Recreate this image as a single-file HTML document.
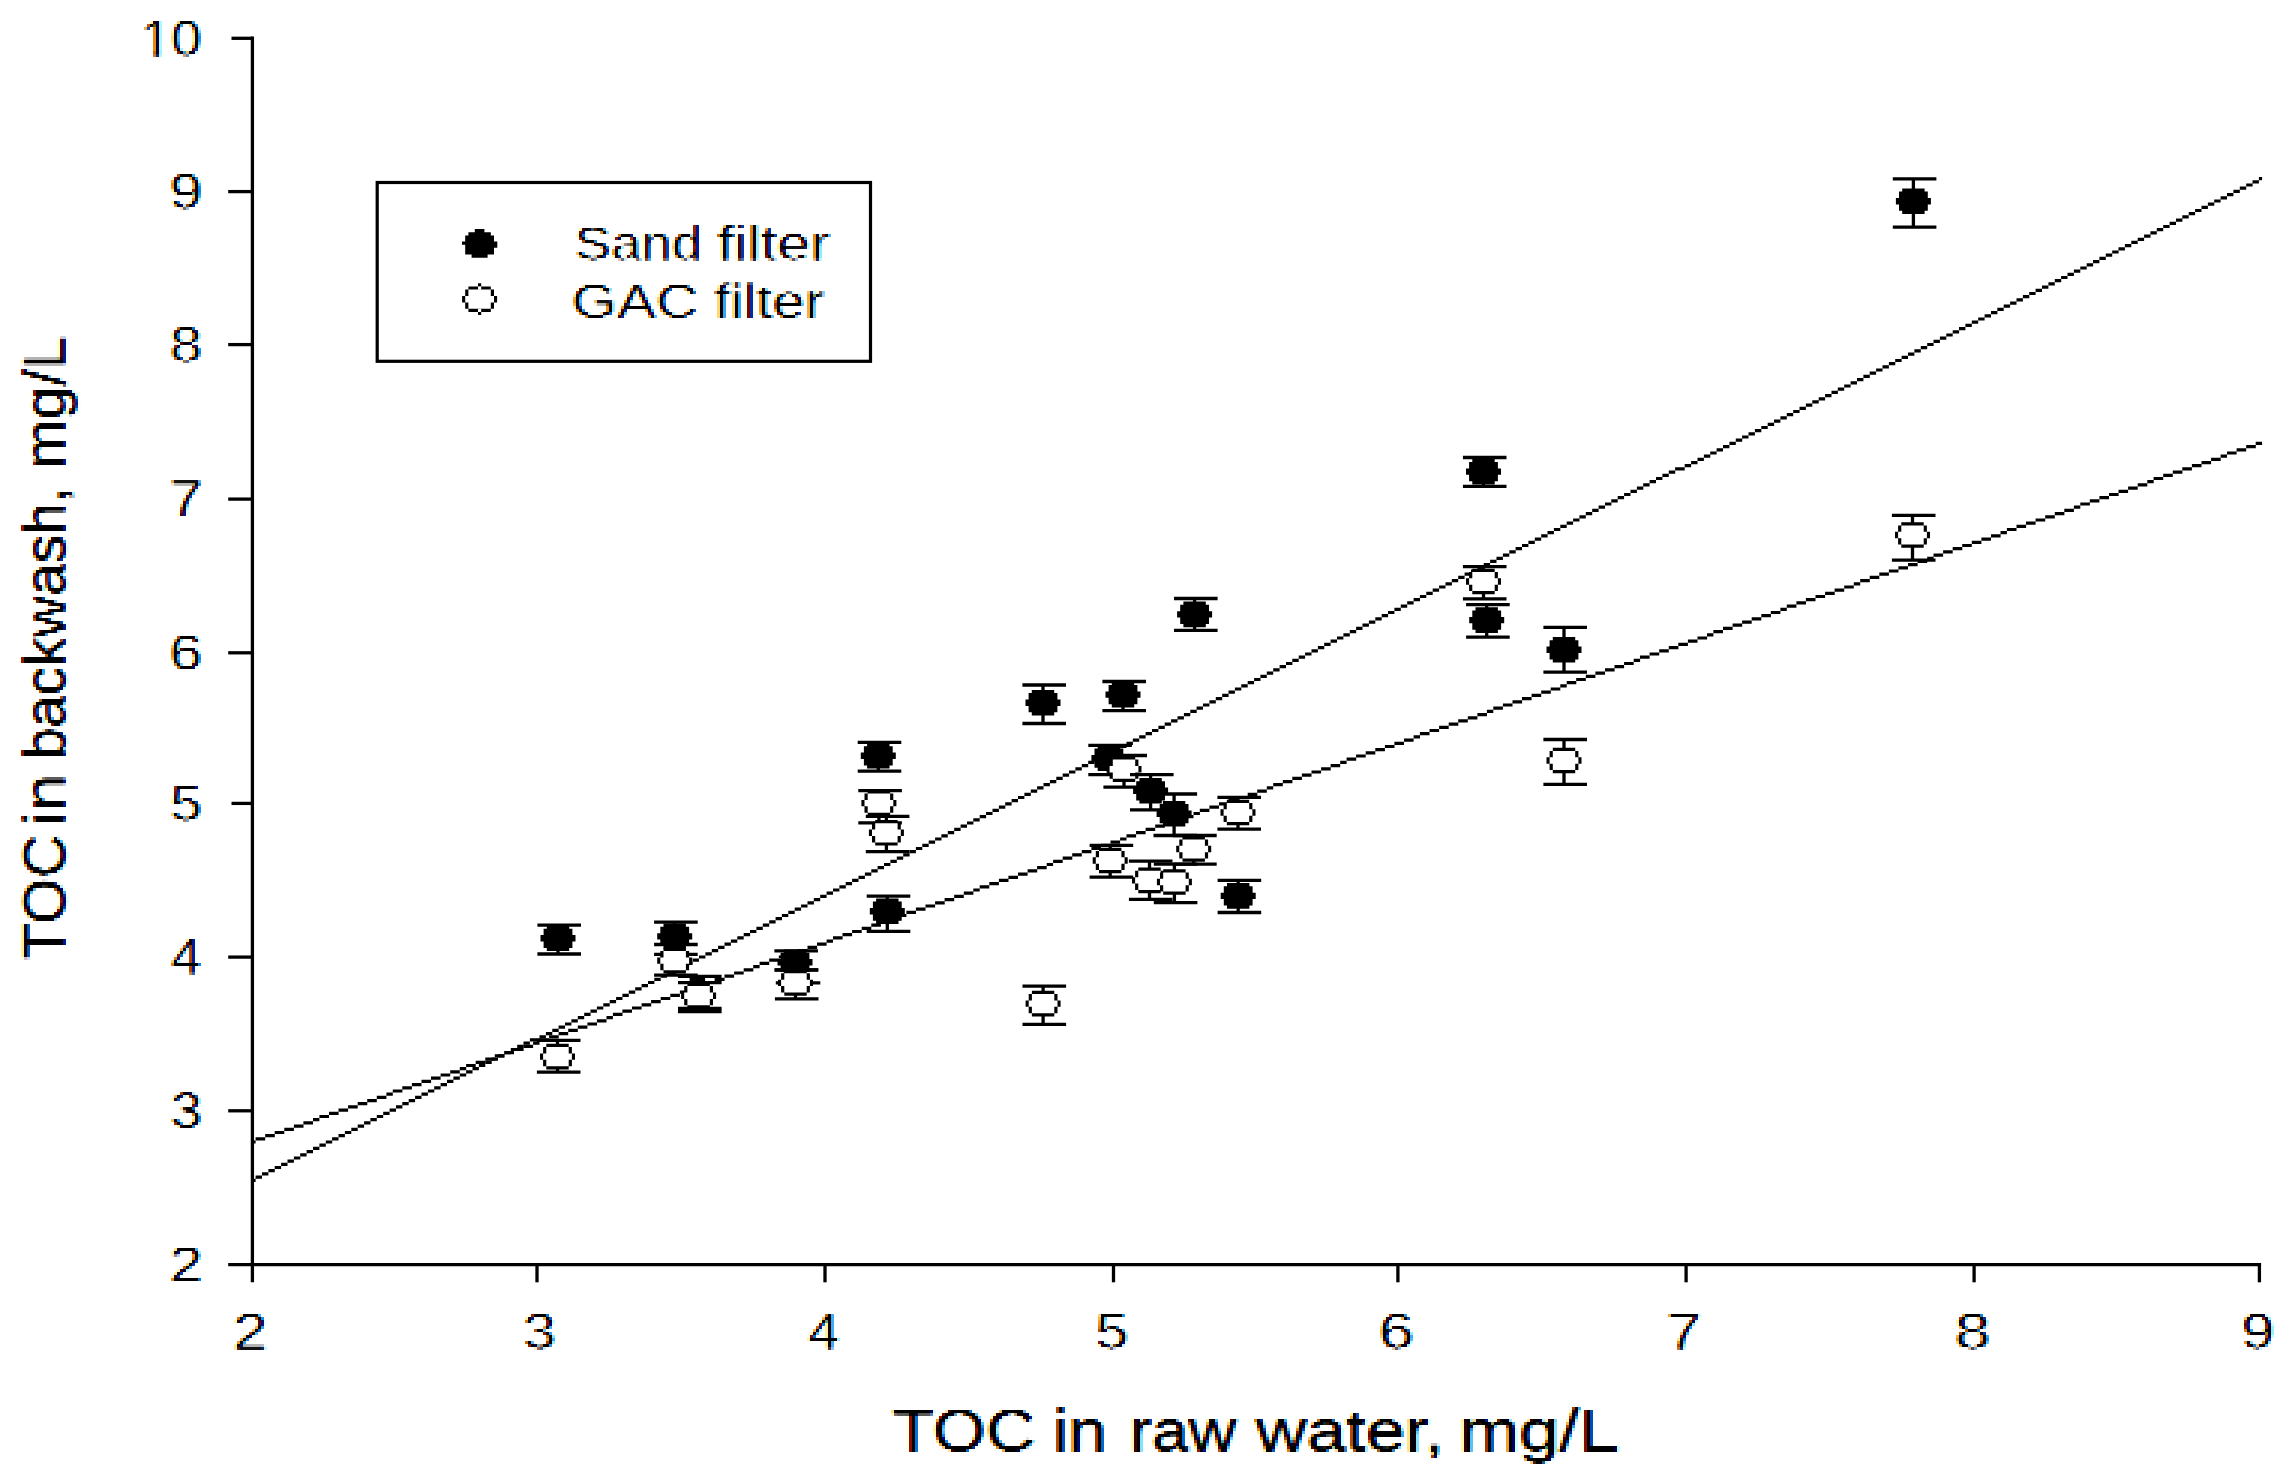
<!DOCTYPE html><html><head><meta charset="utf-8"><title>TOC chart</title><style>html,body{margin:0;padding:0;background:#fff}svg{display:block}text{font-family:"Liberation Sans",sans-serif;fill:#000;stroke:#fff;stroke-width:0.7}.t text{stroke:none}</style></head><body>
<svg width="2295" height="1481" viewBox="0 0 2295 1481">
<defs><filter id="fl" filterUnits="userSpaceOnUse" primitiveUnits="userSpaceOnUse" x="564" y="213" width="279" height="120" color-interpolation-filters="sRGB">
<feColorMatrix in="SourceGraphic" type="matrix" values="0 0 0 0 0 0 0 0 0 0 0 0 0 0 0 -0.2125 -0.7154 -0.0721 1 0" result="ink"/>
<feGaussianBlur in="ink" stdDeviation="1.15 0"/><feComponentTransfer result="bl"><feFuncA type="linear" slope="1.45" intercept="-0.06"/></feComponentTransfer>
<feFlood x="564" y="214" width="1" height="1" flood-color="#000"/><feComposite x="564" y="213" width="3" height="3"/><feTile result="gr"/>
<feFlood x="565" y="214" width="1" height="1" flood-color="#000"/><feComposite x="564" y="213" width="3" height="3"/><feTile result="gg"/>
<feFlood x="566" y="214" width="1" height="1" flood-color="#000"/><feComposite x="564" y="213" width="3" height="3"/><feTile result="gb"/>
<feComposite in="bl" in2="gr" operator="in"/><feMorphology operator="dilate" radius="1"/><feOffset dx="1" dy="0" result="sr"/>
<feComposite in="bl" in2="gg" operator="in"/><feMorphology operator="dilate" radius="1" result="sg"/>
<feComposite in="bl" in2="gb" operator="in"/><feMorphology operator="dilate" radius="1"/><feOffset dx="-1" dy="0" result="sb"/>
<feFlood flood-color="#0ff"/><feComposite in2="sr" operator="in" result="cr"/>
<feFlood flood-color="#f0f"/><feComposite in2="sg" operator="in" result="cg"/>
<feFlood flood-color="#ff0"/><feComposite in2="sb" operator="in" result="cb"/>
<feFlood flood-color="#fff" result="wh"/>
<feBlend in="cr" in2="wh" mode="multiply" result="m1"/>
<feBlend in="cg" in2="m1" mode="multiply" result="m2"/>
<feBlend in="cb" in2="m2" mode="multiply"/>
</filter><filter id="fy" filterUnits="userSpaceOnUse" primitiveUnits="userSpaceOnUse" x="135" y="9" width="81" height="1290" color-interpolation-filters="sRGB">
<feColorMatrix in="SourceGraphic" type="matrix" values="0 0 0 0 0 0 0 0 0 0 0 0 0 0 0 -0.2125 -0.7154 -0.0721 1 0" result="ink"/>
<feGaussianBlur in="ink" stdDeviation="1.15 0"/><feComponentTransfer result="bl"><feFuncA type="linear" slope="1.45" intercept="-0.06"/></feComponentTransfer>
<feFlood x="135" y="10" width="1" height="1" flood-color="#000"/><feComposite x="135" y="9" width="3" height="3"/><feTile result="gr"/>
<feFlood x="136" y="10" width="1" height="1" flood-color="#000"/><feComposite x="135" y="9" width="3" height="3"/><feTile result="gg"/>
<feFlood x="137" y="10" width="1" height="1" flood-color="#000"/><feComposite x="135" y="9" width="3" height="3"/><feTile result="gb"/>
<feComposite in="bl" in2="gr" operator="in"/><feMorphology operator="dilate" radius="1"/><feOffset dx="1" dy="0" result="sr"/>
<feComposite in="bl" in2="gg" operator="in"/><feMorphology operator="dilate" radius="1" result="sg"/>
<feComposite in="bl" in2="gb" operator="in"/><feMorphology operator="dilate" radius="1"/><feOffset dx="-1" dy="0" result="sb"/>
<feFlood flood-color="#0ff"/><feComposite in2="sr" operator="in" result="cr"/>
<feFlood flood-color="#f0f"/><feComposite in2="sg" operator="in" result="cg"/>
<feFlood flood-color="#ff0"/><feComposite in2="sb" operator="in" result="cb"/>
<feFlood flood-color="#fff" result="wh"/>
<feBlend in="cr" in2="wh" mode="multiply" result="m1"/>
<feBlend in="cg" in2="m1" mode="multiply" result="m2"/>
<feBlend in="cb" in2="m2" mode="multiply"/>
</filter><filter id="fx" filterUnits="userSpaceOnUse" primitiveUnits="userSpaceOnUse" x="225" y="1302" width="2064" height="63" color-interpolation-filters="sRGB">
<feColorMatrix in="SourceGraphic" type="matrix" values="0 0 0 0 0 0 0 0 0 0 0 0 0 0 0 -0.2125 -0.7154 -0.0721 1 0" result="ink"/>
<feGaussianBlur in="ink" stdDeviation="1.15 0"/><feComponentTransfer result="bl"><feFuncA type="linear" slope="1.45" intercept="-0.06"/></feComponentTransfer>
<feFlood x="225" y="1303" width="1" height="1" flood-color="#000"/><feComposite x="225" y="1302" width="3" height="3"/><feTile result="gr"/>
<feFlood x="226" y="1303" width="1" height="1" flood-color="#000"/><feComposite x="225" y="1302" width="3" height="3"/><feTile result="gg"/>
<feFlood x="227" y="1303" width="1" height="1" flood-color="#000"/><feComposite x="225" y="1302" width="3" height="3"/><feTile result="gb"/>
<feComposite in="bl" in2="gr" operator="in"/><feMorphology operator="dilate" radius="1"/><feOffset dx="1" dy="0" result="sr"/>
<feComposite in="bl" in2="gg" operator="in"/><feMorphology operator="dilate" radius="1" result="sg"/>
<feComposite in="bl" in2="gb" operator="in"/><feMorphology operator="dilate" radius="1"/><feOffset dx="-1" dy="0" result="sb"/>
<feFlood flood-color="#0ff"/><feComposite in2="sr" operator="in" result="cr"/>
<feFlood flood-color="#f0f"/><feComposite in2="sg" operator="in" result="cg"/>
<feFlood flood-color="#ff0"/><feComposite in2="sb" operator="in" result="cb"/>
<feFlood flood-color="#fff" result="wh"/>
<feBlend in="cr" in2="wh" mode="multiply" result="m1"/>
<feBlend in="cg" in2="m1" mode="multiply" result="m2"/>
<feBlend in="cb" in2="m2" mode="multiply"/>
</filter><filter id="fa" filterUnits="userSpaceOnUse" primitiveUnits="userSpaceOnUse" x="882" y="1395" width="753" height="78" color-interpolation-filters="sRGB">
<feColorMatrix in="SourceGraphic" type="matrix" values="0 0 0 0 0 0 0 0 0 0 0 0 0 0 0 -0.2125 -0.7154 -0.0721 1 0" result="ink"/>
<feGaussianBlur in="ink" stdDeviation="1.15 0"/><feComponentTransfer result="bl"><feFuncA type="linear" slope="1.45" intercept="-0.06"/></feComponentTransfer>
<feFlood x="882" y="1396" width="1" height="1" flood-color="#000"/><feComposite x="882" y="1395" width="3" height="3"/><feTile result="gr"/>
<feFlood x="883" y="1396" width="1" height="1" flood-color="#000"/><feComposite x="882" y="1395" width="3" height="3"/><feTile result="gg"/>
<feFlood x="884" y="1396" width="1" height="1" flood-color="#000"/><feComposite x="882" y="1395" width="3" height="3"/><feTile result="gb"/>
<feComposite in="bl" in2="gr" operator="in"/><feMorphology operator="dilate" radius="1"/><feOffset dx="1" dy="0" result="sr"/>
<feComposite in="bl" in2="gg" operator="in"/><feMorphology operator="dilate" radius="1" result="sg"/>
<feComposite in="bl" in2="gb" operator="in"/><feMorphology operator="dilate" radius="1"/><feOffset dx="-1" dy="0" result="sb"/>
<feFlood flood-color="#0ff"/><feComposite in2="sr" operator="in" result="cr"/>
<feFlood flood-color="#f0f"/><feComposite in2="sg" operator="in" result="cg"/>
<feFlood flood-color="#ff0"/><feComposite in2="sb" operator="in" result="cb"/>
<feFlood flood-color="#fff" result="wh"/>
<feBlend in="cr" in2="wh" mode="multiply" result="m1"/>
<feBlend in="cg" in2="m1" mode="multiply" result="m2"/>
<feBlend in="cb" in2="m2" mode="multiply"/>
</filter><filter id="fv" filterUnits="userSpaceOnUse" primitiveUnits="userSpaceOnUse" x="12" y="324" width="81" height="651" color-interpolation-filters="sRGB">
<feColorMatrix in="SourceGraphic" type="matrix" values="0 0 0 0 0 0 0 0 0 0 0 0 0 0 0 -0.2125 -0.7154 -0.0721 1 0" result="ink"/>
<feGaussianBlur in="ink" stdDeviation="1.15 0"/><feComponentTransfer result="bl"><feFuncA type="linear" slope="1.45" intercept="-0.06"/></feComponentTransfer>
<feFlood x="12" y="325" width="1" height="1" flood-color="#000"/><feComposite x="12" y="324" width="3" height="3"/><feTile result="gr"/>
<feFlood x="13" y="325" width="1" height="1" flood-color="#000"/><feComposite x="12" y="324" width="3" height="3"/><feTile result="gg"/>
<feFlood x="14" y="325" width="1" height="1" flood-color="#000"/><feComposite x="12" y="324" width="3" height="3"/><feTile result="gb"/>
<feComposite in="bl" in2="gr" operator="in"/><feMorphology operator="dilate" radius="1"/><feOffset dx="1" dy="0" result="sr"/>
<feComposite in="bl" in2="gg" operator="in"/><feMorphology operator="dilate" radius="1" result="sg"/>
<feComposite in="bl" in2="gb" operator="in"/><feMorphology operator="dilate" radius="1"/><feOffset dx="-1" dy="0" result="sb"/>
<feFlood flood-color="#0ff"/><feComposite in2="sr" operator="in" result="cr"/>
<feFlood flood-color="#f0f"/><feComposite in2="sg" operator="in" result="cg"/>
<feFlood flood-color="#ff0"/><feComposite in2="sb" operator="in" result="cb"/>
<feFlood flood-color="#fff" result="wh"/>
<feBlend in="cr" in2="wh" mode="multiply" result="m1"/>
<feBlend in="cg" in2="m1" mode="multiply" result="m2"/>
<feBlend in="cb" in2="m2" mode="multiply"/>
</filter></defs>
<rect width="2295" height="1481" fill="#fff"/>
<g filter="url(#fl)">
<text transform="translate(574.54 260.4) scale(1.1256 1)" font-size="48.5">Sand</text>
<text transform="translate(717.30 260.4) scale(1.2316 1)" font-size="48.5">filter</text>
<text transform="translate(571.47 318) scale(1.2068 1)" font-size="48.5">GAC</text>
<text transform="translate(714.02 318) scale(1.2027 1)" font-size="48.5">filter</text>
</g>
<g filter="url(#fy)">
<text transform="translate(169.28 1281.9) scale(1.2088 1)" font-size="50">2</text>
<text transform="translate(170.13 1128.1) scale(1.1579 1)" font-size="50">3</text>
<text transform="translate(171.07 974.4) scale(1.0891 1)" font-size="50">4</text>
<text transform="translate(169.98 820.7) scale(1.1579 1)" font-size="50">5</text>
<text transform="translate(169.33 670.1) scale(1.1892 1)" font-size="50">6</text>
<text transform="translate(169.11 516.4) scale(1.2155 1)" font-size="50">7</text>
<text transform="translate(169.81 361.9) scale(1.1702 1)" font-size="50">8</text>
<text transform="translate(169.48 208.9) scale(1.1892 1)" font-size="50">9</text>
<g transform="translate(140.41 55.6) scale(1.1 1)"><text font-size="50">10</text><path fill="#fff" d="M2.50 -4.10H12.57V1.00H2.50zM16.98 -4.10H26.50V1.00H16.98z"/></g>
</g>
<g filter="url(#fx)">
<text transform="translate(232.98 1349.3) scale(1.2484 1)" font-size="50">2</text>
<text transform="translate(522.88 1349.3) scale(1.1832 1)" font-size="50">3</text>
<text transform="translate(808.15 1349.3) scale(1.1129 1)" font-size="50">4</text>
<text transform="translate(1095.21 1349.3) scale(1.1958 1)" font-size="50">5</text>
<text transform="translate(1378.50 1349.3) scale(1.2800 1)" font-size="50">6</text>
<text transform="translate(1666.42 1349.3) scale(1.2508 1)" font-size="50">7</text>
<text transform="translate(1954.54 1349.3) scale(1.2979 1)" font-size="50">8</text>
<text transform="translate(2241.37 1349.3) scale(1.1935 1)" font-size="50">9</text>
</g>
<g filter="url(#fa)"><g class="t">
<text transform="translate(892.36 1451.4) scale(1.1671 1)" font-size="58.5">TOC</text>
<text transform="translate(1052.71 1451.4) scale(1.1873 1)" font-size="58.5">in</text>
<text transform="translate(1129.64 1451.4) scale(1.1300 1)" font-size="58.5">raw</text>
<text transform="translate(1255.70 1451.4) scale(1.2077 1)" font-size="58.5">water,</text>
<text transform="translate(1459.15 1451.4) scale(1.2282 1)" font-size="58.5">mg/L</text>
</g></g>
<g filter="url(#fv)"><g class="t">
<text transform="translate(64.6 959.54) rotate(-90) scale(1.0189 1)" font-size="58.5">TOC</text>
<text transform="translate(64.6 825.33) rotate(-90) scale(1.1210 1)" font-size="58.5">in</text>
<text transform="translate(64.6 760.07) rotate(-90) scale(0.9905 1)" font-size="58.5">backwash,</text>
<text transform="translate(64.6 469.56) rotate(-90) scale(1.0285 1)" font-size="58.5">mg/L</text>
</g></g>
<path fill="#000" d="M252.4 1178.7h3.2v3.19h-3.2zM255.6 1175.5h6.4v3.19h-6.4zM262.0 1172.3h6.4v3.19h-6.4zM268.4 1169.1h6.4v3.19h-6.4zM274.7 1165.9h6.4v3.19h-6.4zM281.1 1162.8h6.4v3.19h-6.4zM287.5 1159.6h6.4v3.19h-6.4zM293.9 1156.4h6.4v3.19h-6.4zM300.2 1153.2h6.4v3.19h-6.4zM306.6 1150.0h6.4v3.19h-6.4zM313.0 1146.8h6.4v3.19h-6.4zM319.4 1143.6h6.4v3.19h-6.4zM325.8 1140.4h6.4v3.19h-6.4zM332.1 1137.2h6.4v3.19h-6.4zM338.5 1134.0h6.4v3.19h-6.4zM344.9 1130.9h6.4v3.19h-6.4zM351.3 1127.7h6.4v3.19h-6.4zM357.7 1124.5h6.4v3.19h-6.4zM364.1 1121.3h6.4v3.19h-6.4zM370.4 1118.1h6.4v3.19h-6.4zM376.8 1114.9h6.4v3.19h-6.4zM383.2 1111.7h6.4v3.19h-6.4zM389.6 1108.5h6.4v3.19h-6.4zM396.0 1105.3h6.4v3.19h-6.4zM402.3 1102.1h6.4v3.19h-6.4zM408.7 1099.0h6.4v3.19h-6.4zM415.1 1095.8h6.4v3.19h-6.4zM421.5 1092.6h6.4v3.19h-6.4zM427.9 1089.4h6.4v3.19h-6.4zM434.2 1086.2h6.4v3.19h-6.4zM440.6 1083.0h6.4v3.19h-6.4zM447.0 1079.8h6.4v3.19h-6.4zM453.4 1076.6h6.4v3.19h-6.4zM459.8 1073.4h6.4v3.19h-6.4zM466.1 1070.2h6.4v3.19h-6.4zM472.5 1067.1h6.4v3.19h-6.4zM478.9 1063.9h6.4v3.19h-6.4zM485.3 1060.7h6.4v3.19h-6.4zM491.6 1057.5h6.4v3.19h-6.4zM498.0 1054.3h6.4v3.19h-6.4zM504.4 1051.1h6.4v3.19h-6.4zM510.8 1047.9h6.4v3.19h-6.4zM517.2 1044.7h6.4v3.19h-6.4zM523.5 1041.5h6.4v3.19h-6.4zM529.9 1038.3h9.6v3.19h-9.6zM539.5 1035.2h6.4v3.19h-6.4zM545.9 1032.0h6.4v3.19h-6.4zM552.3 1028.8h6.4v3.19h-6.4zM558.6 1025.6h6.4v3.19h-6.4zM565.0 1022.4h6.4v3.19h-6.4zM571.4 1019.2h6.4v3.19h-6.4zM577.8 1016.0h6.4v3.19h-6.4zM584.2 1012.8h6.4v3.19h-6.4zM590.5 1009.6h6.4v3.19h-6.4zM596.9 1006.4h6.4v3.19h-6.4zM603.3 1003.3h6.4v3.19h-6.4zM609.7 1000.1h6.4v3.19h-6.4zM616.1 996.9h6.4v3.19h-6.4zM622.4 993.7h6.4v3.19h-6.4zM628.8 990.5h6.4v3.19h-6.4zM635.2 987.3h6.4v3.19h-6.4zM641.6 984.1h6.4v3.19h-6.4zM648.0 980.9h6.4v3.19h-6.4zM654.3 977.7h6.4v3.19h-6.4zM660.7 974.5h6.4v3.19h-6.4zM667.1 971.4h6.4v3.19h-6.4zM673.5 968.2h6.4v3.19h-6.4zM679.9 965.0h6.4v3.19h-6.4zM686.2 961.8h6.4v3.19h-6.4zM692.6 958.6h6.4v3.19h-6.4zM699.0 955.4h6.4v3.19h-6.4zM705.4 952.2h6.4v3.19h-6.4zM711.8 949.0h6.4v3.19h-6.4zM718.1 945.8h6.4v3.19h-6.4zM724.5 942.6h6.4v3.19h-6.4zM730.9 939.5h6.4v3.19h-6.4zM737.3 936.3h6.4v3.19h-6.4zM743.7 933.1h6.4v3.19h-6.4zM750.0 929.9h6.4v3.19h-6.4zM756.4 926.7h6.4v3.19h-6.4zM762.8 923.5h6.4v3.19h-6.4zM769.2 920.3h6.4v3.19h-6.4zM775.6 917.1h6.4v3.19h-6.4zM781.9 913.9h6.4v3.19h-6.4zM788.3 910.7h6.4v3.19h-6.4zM794.7 907.6h6.4v3.19h-6.4zM801.1 904.4h6.4v3.19h-6.4zM807.5 901.2h6.4v3.19h-6.4zM813.8 898.0h6.4v3.19h-6.4zM820.2 894.8h6.4v3.19h-6.4zM826.6 891.6h6.4v3.19h-6.4zM833.0 888.4h6.4v3.19h-6.4zM839.4 885.2h6.4v3.19h-6.4zM845.7 882.0h6.4v3.19h-6.4zM852.1 878.8h6.4v3.19h-6.4zM858.5 875.7h6.4v3.19h-6.4zM864.9 872.5h6.4v3.19h-6.4zM871.3 869.3h6.4v3.19h-6.4zM877.6 866.1h6.4v3.19h-6.4zM884.0 862.9h6.4v3.19h-6.4zM890.4 859.7h6.4v3.19h-6.4zM896.8 856.5h6.4v3.19h-6.4zM903.2 853.3h6.4v3.19h-6.4zM909.5 850.1h6.4v3.19h-6.4zM915.9 846.9h6.4v3.19h-6.4zM922.3 843.8h6.4v3.19h-6.4zM928.7 840.6h6.4v3.19h-6.4zM935.1 837.4h6.4v3.19h-6.4zM941.4 834.2h6.4v3.19h-6.4zM947.8 831.0h6.4v3.19h-6.4zM954.2 827.8h6.4v3.19h-6.4zM960.6 824.6h6.4v3.19h-6.4zM967.0 821.4h6.4v3.19h-6.4zM973.3 818.2h6.4v3.19h-6.4zM979.7 815.0h6.4v3.19h-6.4zM986.1 811.9h6.4v3.19h-6.4zM992.5 808.7h6.4v3.19h-6.4zM998.9 805.5h6.4v3.19h-6.4zM1005.2 802.3h6.4v3.19h-6.4zM1011.6 799.1h6.4v3.19h-6.4zM1018.0 795.9h6.4v3.19h-6.4zM1024.4 792.7h6.4v3.19h-6.4zM1030.8 789.5h6.4v3.19h-6.4zM1037.1 786.3h6.4v3.19h-6.4zM1043.5 783.1h6.4v3.19h-6.4zM1049.9 780.0h6.4v3.19h-6.4zM1056.3 776.8h6.4v3.19h-6.4zM1062.7 773.6h6.4v3.19h-6.4zM1069.0 770.4h6.4v3.19h-6.4zM1075.4 767.2h6.4v3.19h-6.4zM1081.8 764.0h6.4v3.19h-6.4zM1088.2 760.8h6.4v3.19h-6.4zM1094.6 757.6h6.4v3.19h-6.4zM1100.9 754.4h6.4v3.19h-6.4zM1107.3 751.2h6.4v3.19h-6.4zM1113.7 748.1h6.4v3.19h-6.4zM1120.1 744.9h6.4v3.19h-6.4zM1126.5 741.7h6.4v3.19h-6.4zM1132.8 738.5h6.4v3.19h-6.4zM1139.2 735.3h6.4v3.19h-6.4zM1145.6 732.1h6.4v3.19h-6.4zM1152.0 728.9h6.4v3.19h-6.4zM1158.4 725.7h6.4v3.19h-6.4zM1164.7 722.5h6.4v3.19h-6.4zM1171.1 719.3h6.4v3.19h-6.4zM1177.5 716.2h6.4v3.19h-6.4zM1183.9 713.0h6.4v3.19h-6.4zM1190.3 709.8h6.4v3.19h-6.4zM1196.6 706.6h6.4v3.19h-6.4zM1203.0 703.4h6.4v3.19h-6.4zM1209.4 700.2h6.4v3.19h-6.4zM1215.8 697.0h6.4v3.19h-6.4zM1222.2 693.8h6.4v3.19h-6.4zM1228.5 690.6h6.4v3.19h-6.4zM1234.9 687.4h6.4v3.19h-6.4zM1241.3 684.3h6.4v3.19h-6.4zM1247.7 681.1h6.4v3.19h-6.4zM1254.1 677.9h6.4v3.19h-6.4zM1260.4 674.7h6.4v3.19h-6.4zM1266.8 671.5h6.4v3.19h-6.4zM1273.2 668.3h6.4v3.19h-6.4zM1279.6 665.1h6.4v3.19h-6.4zM1286.0 661.9h6.4v3.19h-6.4zM1292.3 658.7h6.4v3.19h-6.4zM1298.7 655.5h6.4v3.19h-6.4zM1305.1 652.4h6.4v3.19h-6.4zM1311.5 649.2h6.4v3.19h-6.4zM1317.9 646.0h6.4v3.19h-6.4zM1324.2 642.8h6.4v3.19h-6.4zM1330.6 639.6h6.4v3.19h-6.4zM1337.0 636.4h6.4v3.19h-6.4zM1343.4 633.2h6.4v3.19h-6.4zM1349.8 630.0h6.4v3.19h-6.4zM1356.1 626.8h6.4v3.19h-6.4zM1362.5 623.6h6.4v3.19h-6.4zM1368.9 620.5h6.4v3.19h-6.4zM1375.3 617.3h6.4v3.19h-6.4zM1381.7 614.1h6.4v3.19h-6.4zM1388.0 610.9h6.4v3.19h-6.4zM1394.4 607.7h6.4v3.19h-6.4zM1400.8 604.5h6.4v3.19h-6.4zM1407.2 601.3h6.4v3.19h-6.4zM1413.6 598.1h6.4v3.19h-6.4zM1419.9 594.9h6.4v3.19h-6.4zM1426.3 591.7h6.4v3.19h-6.4zM1432.7 588.6h6.4v3.19h-6.4zM1439.1 585.4h6.4v3.19h-6.4zM1445.5 582.2h6.4v3.19h-6.4zM1451.8 579.0h6.4v3.19h-6.4zM1458.2 575.8h6.4v3.19h-6.4zM1464.6 572.6h6.4v3.19h-6.4zM1471.0 569.4h6.4v3.19h-6.4zM1477.4 566.2h6.4v3.19h-6.4zM1483.7 563.0h6.4v3.19h-6.4zM1490.1 559.8h6.4v3.19h-6.4zM1496.5 556.7h6.4v3.19h-6.4zM1502.9 553.5h6.4v3.19h-6.4zM1509.3 550.3h6.4v3.19h-6.4zM1515.6 547.1h6.4v3.19h-6.4zM1522.0 543.9h6.4v3.19h-6.4zM1528.4 540.7h6.4v3.19h-6.4zM1534.8 537.5h6.4v3.19h-6.4zM1541.2 534.3h6.4v3.19h-6.4zM1547.5 531.1h6.4v3.19h-6.4zM1553.9 527.9h6.4v3.19h-6.4zM1560.3 524.8h6.4v3.19h-6.4zM1566.7 521.6h6.4v3.19h-6.4zM1573.1 518.4h6.4v3.19h-6.4zM1579.4 515.2h6.4v3.19h-6.4zM1585.8 512.0h6.4v3.19h-6.4zM1592.2 508.8h6.4v3.19h-6.4zM1598.6 505.6h6.4v3.19h-6.4zM1605.0 502.4h6.4v3.19h-6.4zM1611.3 499.2h6.4v3.19h-6.4zM1617.7 496.0h6.4v3.19h-6.4zM1624.1 492.9h6.4v3.19h-6.4zM1630.5 489.7h6.4v3.19h-6.4zM1636.9 486.5h6.4v3.19h-6.4zM1643.2 483.3h6.4v3.19h-6.4zM1649.6 480.1h6.4v3.19h-6.4zM1656.0 476.9h6.4v3.19h-6.4zM1662.4 473.7h6.4v3.19h-6.4zM1668.8 470.5h6.4v3.19h-6.4zM1675.1 467.3h9.6v3.19h-9.6zM1684.7 464.1h6.4v3.19h-6.4zM1691.1 461.0h6.4v3.19h-6.4zM1697.5 457.8h6.4v3.19h-6.4zM1703.9 454.6h6.4v3.19h-6.4zM1710.2 451.4h6.4v3.19h-6.4zM1716.6 448.2h6.4v3.19h-6.4zM1723.0 445.0h6.4v3.19h-6.4zM1729.4 441.8h6.4v3.19h-6.4zM1735.8 438.6h6.4v3.19h-6.4zM1742.1 435.4h6.4v3.19h-6.4zM1748.5 432.2h6.4v3.19h-6.4zM1754.9 429.1h6.4v3.19h-6.4zM1761.3 425.9h6.4v3.19h-6.4zM1767.7 422.7h6.4v3.19h-6.4zM1774.0 419.5h6.4v3.19h-6.4zM1780.4 416.3h6.4v3.19h-6.4zM1786.8 413.1h6.4v3.19h-6.4zM1793.2 409.9h6.4v3.19h-6.4zM1799.5 406.7h6.4v3.19h-6.4zM1805.9 403.5h6.4v3.19h-6.4zM1812.3 400.3h6.4v3.19h-6.4zM1818.7 397.2h6.4v3.19h-6.4zM1825.1 394.0h6.4v3.19h-6.4zM1831.5 390.8h6.4v3.19h-6.4zM1837.8 387.6h6.4v3.19h-6.4zM1844.2 384.4h6.4v3.19h-6.4zM1850.6 381.2h6.4v3.19h-6.4zM1857.0 378.0h6.4v3.19h-6.4zM1863.4 374.8h6.4v3.19h-6.4zM1869.7 371.6h6.4v3.19h-6.4zM1876.1 368.4h6.4v3.19h-6.4zM1882.5 365.3h6.4v3.19h-6.4zM1888.9 362.1h6.4v3.19h-6.4zM1895.2 358.9h6.4v3.19h-6.4zM1901.6 355.7h6.4v3.19h-6.4zM1908.0 352.5h6.4v3.19h-6.4zM1914.4 349.3h6.4v3.19h-6.4zM1920.8 346.1h6.4v3.19h-6.4zM1927.2 342.9h6.4v3.19h-6.4zM1933.5 339.7h6.4v3.19h-6.4zM1939.9 336.5h6.4v3.19h-6.4zM1946.3 333.4h6.4v3.19h-6.4zM1952.7 330.2h6.4v3.19h-6.4zM1959.0 327.0h6.4v3.19h-6.4zM1965.4 323.8h6.4v3.19h-6.4zM1971.8 320.6h6.4v3.19h-6.4zM1978.2 317.4h6.4v3.19h-6.4zM1984.6 314.2h6.4v3.19h-6.4zM1991.0 311.0h6.4v3.19h-6.4zM1997.3 307.8h6.4v3.19h-6.4zM2003.7 304.6h6.4v3.19h-6.4zM2010.1 301.5h6.4v3.19h-6.4zM2016.5 298.3h6.4v3.19h-6.4zM2022.9 295.1h6.4v3.19h-6.4zM2029.2 291.9h6.4v3.19h-6.4zM2035.6 288.7h6.4v3.19h-6.4zM2042.0 285.5h6.4v3.19h-6.4zM2048.4 282.3h6.4v3.19h-6.4zM2054.8 279.1h6.4v3.19h-6.4zM2061.1 275.9h6.4v3.19h-6.4zM2067.5 272.7h6.4v3.19h-6.4zM2073.9 269.6h6.4v3.19h-6.4zM2080.3 266.4h6.4v3.19h-6.4zM2086.7 263.2h6.4v3.19h-6.4zM2093.0 260.0h6.4v3.19h-6.4zM2099.4 256.8h6.4v3.19h-6.4zM2105.8 253.6h6.4v3.19h-6.4zM2112.2 250.4h6.4v3.19h-6.4zM2118.5 247.2h6.4v3.19h-6.4zM2124.9 244.0h6.4v3.19h-6.4zM2131.3 240.8h6.4v3.19h-6.4zM2137.7 237.7h6.4v3.19h-6.4zM2144.1 234.5h6.4v3.19h-6.4zM2150.4 231.3h6.4v3.19h-6.4zM2156.8 228.1h6.4v3.19h-6.4zM2163.2 224.9h6.4v3.19h-6.4zM2169.6 221.7h6.4v3.19h-6.4zM2176.0 218.5h6.4v3.19h-6.4zM2182.3 215.3h6.4v3.19h-6.4zM2188.7 212.1h6.4v3.19h-6.4zM2195.1 208.9h6.4v3.19h-6.4zM2201.5 205.8h6.4v3.19h-6.4zM2207.9 202.6h6.4v3.19h-6.4zM2214.2 199.4h6.4v3.19h-6.4zM2220.6 196.2h6.4v3.19h-6.4zM2227.0 193.0h6.4v3.19h-6.4zM2233.4 189.8h6.4v3.19h-6.4zM2239.8 186.6h6.4v3.19h-6.4zM2246.2 183.4h6.4v3.19h-6.4zM2252.5 180.2h6.4v3.19h-6.4zM2258.9 177.0h3.2v3.19h-3.2z"/>
<path fill="#000" d="M252.4 1140.4h3.2v3.19h-3.2zM255.6 1137.2h9.6v3.19h-9.6zM265.2 1134.0h9.6v3.19h-9.6zM274.7 1130.9h9.6v3.19h-9.6zM284.3 1127.7h9.6v3.19h-9.6zM293.9 1124.5h9.6v3.19h-9.6zM303.4 1121.3h9.6v3.19h-9.6zM313.0 1118.1h6.4v3.19h-6.4zM319.4 1114.9h9.6v3.19h-9.6zM329.0 1111.7h9.6v3.19h-9.6zM338.5 1108.5h9.6v3.19h-9.6zM348.1 1105.3h9.6v3.19h-9.6zM357.7 1102.1h9.6v3.19h-9.6zM367.2 1099.0h9.6v3.19h-9.6zM376.8 1095.8h9.6v3.19h-9.6zM386.4 1092.6h6.4v3.19h-6.4zM392.8 1089.4h9.6v3.19h-9.6zM402.3 1086.2h9.6v3.19h-9.6zM411.9 1083.0h9.6v3.19h-9.6zM421.5 1079.8h9.6v3.19h-9.6zM431.0 1076.6h9.6v3.19h-9.6zM440.6 1073.4h9.6v3.19h-9.6zM450.2 1070.2h9.6v3.19h-9.6zM459.8 1067.1h6.4v3.19h-6.4zM466.1 1063.9h9.6v3.19h-9.6zM475.7 1060.7h9.6v3.19h-9.6zM485.3 1057.5h9.6v3.19h-9.6zM494.8 1054.3h9.6v3.19h-9.6zM504.4 1051.1h9.6v3.19h-9.6zM514.0 1047.9h9.6v3.19h-9.6zM523.5 1044.7h9.6v3.19h-9.6zM533.1 1041.5h6.4v3.19h-6.4zM539.5 1038.3h9.6v3.19h-9.6zM549.1 1035.2h9.6v3.19h-9.6zM558.6 1032.0h9.6v3.19h-9.6zM568.2 1028.8h9.6v3.19h-9.6zM577.8 1025.6h9.6v3.19h-9.6zM587.4 1022.4h9.6v3.19h-9.6zM596.9 1019.2h9.6v3.19h-9.6zM606.5 1016.0h6.4v3.19h-6.4zM612.9 1012.8h9.6v3.19h-9.6zM622.4 1009.6h9.6v3.19h-9.6zM632.0 1006.4h9.6v3.19h-9.6zM641.6 1003.3h9.6v3.19h-9.6zM651.1 1000.1h9.6v3.19h-9.6zM660.7 996.9h9.6v3.19h-9.6zM670.3 993.7h9.6v3.19h-9.6zM679.9 990.5h6.4v3.19h-6.4zM686.2 987.3h9.6v3.19h-9.6zM695.8 984.1h9.6v3.19h-9.6zM705.4 980.9h9.6v3.19h-9.6zM715.0 977.7h9.6v3.19h-9.6zM724.5 974.5h9.6v3.19h-9.6zM734.1 971.4h9.6v3.19h-9.6zM743.7 968.2h9.6v3.19h-9.6zM753.2 965.0h6.4v3.19h-6.4zM759.6 961.8h9.6v3.19h-9.6zM769.2 958.6h9.6v3.19h-9.6zM778.8 955.4h9.6v3.19h-9.6zM788.3 952.2h9.6v3.19h-9.6zM797.9 949.0h9.6v3.19h-9.6zM807.5 945.8h9.6v3.19h-9.6zM817.0 942.6h9.6v3.19h-9.6zM826.6 939.5h6.4v3.19h-6.4zM833.0 936.3h9.6v3.19h-9.6zM842.5 933.1h9.6v3.19h-9.6zM852.1 929.9h9.6v3.19h-9.6zM861.7 926.7h9.6v3.19h-9.6zM871.3 923.5h9.6v3.19h-9.6zM880.8 920.3h9.6v3.19h-9.6zM890.4 917.1h9.6v3.19h-9.6zM900.0 913.9h6.4v3.19h-6.4zM906.4 910.7h9.6v3.19h-9.6zM915.9 907.6h9.6v3.19h-9.6zM925.5 904.4h9.6v3.19h-9.6zM935.1 901.2h9.6v3.19h-9.6zM944.6 898.0h9.6v3.19h-9.6zM954.2 894.8h9.6v3.19h-9.6zM963.8 891.6h9.6v3.19h-9.6zM973.3 888.4h6.4v3.19h-6.4zM979.7 885.2h9.6v3.19h-9.6zM989.3 882.0h9.6v3.19h-9.6zM998.9 878.8h9.6v3.19h-9.6zM1008.4 875.7h9.6v3.19h-9.6zM1018.0 872.5h9.6v3.19h-9.6zM1027.6 869.3h9.6v3.19h-9.6zM1037.1 866.1h9.6v3.19h-9.6zM1046.7 862.9h6.4v3.19h-6.4zM1053.1 859.7h9.6v3.19h-9.6zM1062.7 856.5h9.6v3.19h-9.6zM1072.2 853.3h9.6v3.19h-9.6zM1081.8 850.1h9.6v3.19h-9.6zM1091.4 846.9h9.6v3.19h-9.6zM1100.9 843.8h9.6v3.19h-9.6zM1110.5 840.6h9.6v3.19h-9.6zM1120.1 837.4h6.4v3.19h-6.4zM1126.5 834.2h9.6v3.19h-9.6zM1136.0 831.0h9.6v3.19h-9.6zM1145.6 827.8h9.6v3.19h-9.6zM1155.2 824.6h9.6v3.19h-9.6zM1164.7 821.4h9.6v3.19h-9.6zM1174.3 818.2h9.6v3.19h-9.6zM1183.9 815.0h9.6v3.19h-9.6zM1193.5 811.9h6.4v3.19h-6.4zM1199.8 808.7h9.6v3.19h-9.6zM1209.4 805.5h9.6v3.19h-9.6zM1219.0 802.3h9.6v3.19h-9.6zM1228.5 799.1h9.6v3.19h-9.6zM1238.1 795.9h9.6v3.19h-9.6zM1247.7 792.7h9.6v3.19h-9.6zM1257.2 789.5h9.6v3.19h-9.6zM1266.8 786.3h6.4v3.19h-6.4zM1273.2 783.1h9.6v3.19h-9.6zM1282.8 780.0h9.6v3.19h-9.6zM1292.3 776.8h9.6v3.19h-9.6zM1301.9 773.6h9.6v3.19h-9.6zM1311.5 770.4h9.6v3.19h-9.6zM1321.1 767.2h9.6v3.19h-9.6zM1330.6 764.0h9.6v3.19h-9.6zM1340.2 760.8h6.4v3.19h-6.4zM1346.6 757.6h9.6v3.19h-9.6zM1356.1 754.4h9.6v3.19h-9.6zM1365.7 751.2h9.6v3.19h-9.6zM1375.3 748.1h9.6v3.19h-9.6zM1384.9 744.9h9.6v3.19h-9.6zM1394.4 741.7h9.6v3.19h-9.6zM1404.0 738.5h9.6v3.19h-9.6zM1413.6 735.3h6.4v3.19h-6.4zM1419.9 732.1h9.6v3.19h-9.6zM1429.5 728.9h9.6v3.19h-9.6zM1439.1 725.7h9.6v3.19h-9.6zM1448.7 722.5h9.6v3.19h-9.6zM1458.2 719.3h9.6v3.19h-9.6zM1467.8 716.2h9.6v3.19h-9.6zM1477.4 713.0h9.6v3.19h-9.6zM1486.9 709.8h6.4v3.19h-6.4zM1493.3 706.6h9.6v3.19h-9.6zM1502.9 703.4h9.6v3.19h-9.6zM1512.5 700.2h9.6v3.19h-9.6zM1522.0 697.0h9.6v3.19h-9.6zM1531.6 693.8h9.6v3.19h-9.6zM1541.2 690.6h9.6v3.19h-9.6zM1550.7 687.4h9.6v3.19h-9.6zM1560.3 684.3h6.4v3.19h-6.4zM1566.7 681.1h9.6v3.19h-9.6zM1576.2 677.9h9.6v3.19h-9.6zM1585.8 674.7h9.6v3.19h-9.6zM1595.4 671.5h9.6v3.19h-9.6zM1605.0 668.3h9.6v3.19h-9.6zM1614.5 665.1h9.6v3.19h-9.6zM1624.1 661.9h9.6v3.19h-9.6zM1633.7 658.7h6.4v3.19h-6.4zM1640.0 655.5h9.6v3.19h-9.6zM1649.6 652.4h9.6v3.19h-9.6zM1659.2 649.2h9.6v3.19h-9.6zM1668.8 646.0h9.6v3.19h-9.6zM1678.3 642.8h9.6v3.19h-9.6zM1687.9 639.6h9.6v3.19h-9.6zM1697.5 636.4h9.6v3.19h-9.6zM1707.0 633.2h6.4v3.19h-6.4zM1713.4 630.0h9.6v3.19h-9.6zM1723.0 626.8h9.6v3.19h-9.6zM1732.6 623.6h9.6v3.19h-9.6zM1742.1 620.5h9.6v3.19h-9.6zM1751.7 617.3h9.6v3.19h-9.6zM1761.3 614.1h9.6v3.19h-9.6zM1770.8 610.9h9.6v3.19h-9.6zM1780.4 607.7h6.4v3.19h-6.4zM1786.8 604.5h9.6v3.19h-9.6zM1796.4 601.3h9.6v3.19h-9.6zM1805.9 598.1h9.6v3.19h-9.6zM1815.5 594.9h9.6v3.19h-9.6zM1825.1 591.7h9.6v3.19h-9.6zM1834.6 588.6h9.6v3.19h-9.6zM1844.2 585.4h9.6v3.19h-9.6zM1853.8 582.2h6.4v3.19h-6.4zM1860.2 579.0h9.6v3.19h-9.6zM1869.7 575.8h9.6v3.19h-9.6zM1879.3 572.6h9.6v3.19h-9.6zM1888.9 569.4h9.6v3.19h-9.6zM1898.4 566.2h9.6v3.19h-9.6zM1908.0 563.0h9.6v3.19h-9.6zM1917.6 559.8h9.6v3.19h-9.6zM1927.2 556.7h6.4v3.19h-6.4zM1933.5 553.5h9.6v3.19h-9.6zM1943.1 550.3h9.6v3.19h-9.6zM1952.7 547.1h9.6v3.19h-9.6zM1962.2 543.9h9.6v3.19h-9.6zM1971.8 540.7h9.6v3.19h-9.6zM1981.4 537.5h9.6v3.19h-9.6zM1991.0 534.3h9.6v3.19h-9.6zM2000.5 531.1h6.4v3.19h-6.4zM2006.9 527.9h9.6v3.19h-9.6zM2016.5 524.8h9.6v3.19h-9.6zM2026.0 521.6h9.6v3.19h-9.6zM2035.6 518.4h9.6v3.19h-9.6zM2045.2 515.2h9.6v3.19h-9.6zM2054.8 512.0h9.6v3.19h-9.6zM2064.3 508.8h9.6v3.19h-9.6zM2073.9 505.6h6.4v3.19h-6.4zM2080.3 502.4h9.6v3.19h-9.6zM2089.8 499.2h9.6v3.19h-9.6zM2099.4 496.0h9.6v3.19h-9.6zM2109.0 492.9h9.6v3.19h-9.6zM2118.5 489.7h9.6v3.19h-9.6zM2128.1 486.5h9.6v3.19h-9.6zM2137.7 483.3h9.6v3.19h-9.6zM2147.3 480.1h6.4v3.19h-6.4zM2153.6 476.9h9.6v3.19h-9.6zM2163.2 473.7h9.6v3.19h-9.6zM2172.8 470.5h9.6v3.19h-9.6zM2182.3 467.3h9.6v3.19h-9.6zM2191.9 464.1h9.6v3.19h-9.6zM2201.5 461.0h9.6v3.19h-9.6zM2211.1 457.8h9.6v3.19h-9.6zM2220.6 454.6h6.4v3.19h-6.4zM2227.0 451.4h9.6v3.19h-9.6zM2236.6 448.2h9.6v3.19h-9.6zM2246.2 445.0h9.6v3.19h-9.6zM2255.7 441.8h6.4v3.19h-6.4z"/>
<g stroke="#000" stroke-width="3.3" fill="none" stroke-linecap="butt">
<line x1="252.4" y1="36.6" x2="252.4" y2="1282.3"/>
<line x1="228.2" y1="1264.6" x2="2261.1" y2="1264.6"/>
<line x1="228.2" y1="1110.8" x2="252.4" y2="1110.8"/>
<line x1="228.2" y1="957.1" x2="252.4" y2="957.1"/>
<line x1="231.5" y1="803.4" x2="252.4" y2="803.4"/>
<line x1="228.2" y1="652.8" x2="252.4" y2="652.8"/>
<line x1="228.2" y1="499.1" x2="252.4" y2="499.1"/>
<line x1="228.2" y1="344.6" x2="252.4" y2="344.6"/>
<line x1="228.2" y1="191.6" x2="252.4" y2="191.6"/>
<line x1="231.5" y1="38.3" x2="252.4" y2="38.3"/>
<line x1="537.0" y1="1264.6" x2="537.0" y2="1282.3"/>
<line x1="825.0" y1="1264.6" x2="825.0" y2="1282.3"/>
<line x1="1113.5" y1="1264.6" x2="1113.5" y2="1282.3"/>
<line x1="1397.9" y1="1264.6" x2="1397.9" y2="1282.3"/>
<line x1="1686.1" y1="1264.6" x2="1686.1" y2="1282.3"/>
<line x1="1974.1" y1="1264.6" x2="1974.1" y2="1282.3"/>
<line x1="2259.4" y1="1264.6" x2="2259.4" y2="1282.3"/>
</g>
<g stroke="#000" stroke-width="3.3"><path d="M557.5 1040.4V1072.2M536.9 1040.4H580.5M536.9 1072.2H580.5" fill="none"/>
<path d="M568.7 1043.8L568.7 1047.0L571.9 1047.0L571.9 1050.2L571.9 1050.2L571.9 1053.4L575.0 1053.4L575.0 1056.6L575.0 1056.6L575.0 1059.8L571.9 1059.8L571.9 1063.0L571.9 1063.0L571.9 1066.2L568.7 1066.2L568.7 1069.4L546.3 1069.4L546.3 1066.2L543.1 1066.2L543.1 1063.0L543.1 1063.0L543.1 1059.8L540.0 1059.8L540.0 1056.6L540.0 1056.6L540.0 1053.4L543.1 1053.4L543.1 1050.2L543.1 1050.2L543.1 1047.0L546.3 1047.0L546.3 1043.8Z" fill="#000" stroke="none"/><path d="M568.7 1047.0L568.7 1050.2L568.7 1050.2L568.7 1053.4L571.9 1053.4L571.9 1056.6L571.9 1056.6L571.9 1059.8L568.7 1059.8L568.7 1063.0L568.7 1063.0L568.7 1066.2L546.3 1066.2L546.3 1063.0L546.3 1063.0L546.3 1059.8L543.1 1059.8L543.1 1056.6L543.1 1056.6L543.1 1053.4L546.3 1053.4L546.3 1050.2L546.3 1050.2L546.3 1047.0Z" fill="#fff" stroke="none"/></g>
<g stroke="#000" stroke-width="3.3"><path d="M558.0 925.1V954.0M537.4 925.1H581.0M537.4 954.0H581.0" fill="none"/>
<path d="M569.2 925.5L569.2 928.7L572.4 928.7L572.4 931.9L572.4 931.9L572.4 935.1L575.5 935.1L575.5 938.3L575.5 938.3L575.5 941.5L572.4 941.5L572.4 944.7L572.4 944.7L572.4 947.9L569.2 947.9L569.2 951.1L546.8 951.1L546.8 947.9L543.6 947.9L543.6 944.7L543.6 944.7L543.6 941.5L540.5 941.5L540.5 938.3L540.5 938.3L540.5 935.1L543.6 935.1L543.6 931.9L543.6 931.9L543.6 928.7L546.8 928.7L546.8 925.5Z" fill="#000" stroke="none"/></g>
<g stroke="#000" stroke-width="3.3"><path d="M674.7 922.1V944.5M654.1 922.1H697.7M654.1 944.5H697.7" fill="none"/>
<path d="M685.9 923.6L685.9 926.8L689.1 926.8L689.1 930.0L689.1 930.0L689.1 933.2L692.2 933.2L692.2 936.4L692.2 936.4L692.2 939.6L689.1 939.6L689.1 942.8L689.1 942.8L689.1 946.0L685.9 946.0L685.9 949.2L663.5 949.2L663.5 946.0L660.3 946.0L660.3 942.8L660.3 942.8L660.3 939.6L657.2 939.6L657.2 936.4L657.2 936.4L657.2 933.2L660.3 933.2L660.3 930.0L660.3 930.0L660.3 926.8L663.5 926.8L663.5 923.6Z" fill="#000" stroke="none"/></g>
<g stroke="#000" stroke-width="3.3"><path d="M674.7 954.4V975.2M654.1 954.4H697.7M654.1 975.2H697.7" fill="none"/>
<path d="M685.9 947.8L685.9 951.0L689.1 951.0L689.1 954.2L689.1 954.2L689.1 957.4L692.2 957.4L692.2 960.6L692.2 960.6L692.2 963.8L689.1 963.8L689.1 967.0L689.1 967.0L689.1 970.2L685.9 970.2L685.9 973.4L663.5 973.4L663.5 970.2L660.3 970.2L660.3 967.0L660.3 967.0L660.3 963.8L657.2 963.8L657.2 960.6L657.2 960.6L657.2 957.4L660.3 957.4L660.3 954.2L660.3 954.2L660.3 951.0L663.5 951.0L663.5 947.8Z" fill="#000" stroke="none"/><path d="M685.9 951.0L685.9 954.2L685.9 954.2L685.9 957.4L689.1 957.4L689.1 960.6L689.1 960.6L689.1 963.8L685.9 963.8L685.9 967.0L685.9 967.0L685.9 970.2L663.5 970.2L663.5 967.0L663.5 967.0L663.5 963.8L660.3 963.8L660.3 960.6L660.3 960.6L660.3 957.4L663.5 957.4L663.5 954.2L663.5 954.2L663.5 951.0Z" fill="#fff" stroke="none"/></g>
<path stroke="#000" stroke-width="3.3" fill="none" d="M698.6 976.4V1011.5M678.0 976.4H721.6M678.0 1011.5H721.6M689.6 979.5H705.1M714.6 979.5H721.6"/>
<g stroke="#000" stroke-width="3.3"><path d="M698.6 982.6V1008.4M678.0 982.6H721.6M678.0 1008.4H721.6" fill="none"/>
<path d="M709.8 982.9L709.8 986.1L713.0 986.1L713.0 989.3L713.0 989.3L713.0 992.5L716.1 992.5L716.1 995.7L716.1 995.7L716.1 998.9L713.0 998.9L713.0 1002.1L713.0 1002.1L713.0 1005.3L709.8 1005.3L709.8 1008.5L687.4 1008.5L687.4 1005.3L684.2 1005.3L684.2 1002.1L684.2 1002.1L684.2 998.9L681.1 998.9L681.1 995.7L681.1 995.7L681.1 992.5L684.2 992.5L684.2 989.3L684.2 989.3L684.2 986.1L687.4 986.1L687.4 982.9Z" fill="#000" stroke="none"/><path d="M709.8 986.1L709.8 989.3L709.8 989.3L709.8 992.5L713.0 992.5L713.0 995.7L713.0 995.7L713.0 998.9L709.8 998.9L709.8 1002.1L709.8 1002.1L709.8 1005.3L687.4 1005.3L687.4 1002.1L687.4 1002.1L687.4 998.9L684.2 998.9L684.2 995.7L684.2 995.7L684.2 992.5L687.4 992.5L687.4 989.3L687.4 989.3L687.4 986.1Z" fill="#fff" stroke="none"/></g>
<g stroke="#000" stroke-width="3.3"><path d="M795.0 950.9V970.0M774.4 950.9H818.0M774.4 970.0H818.0" fill="none"/>
<path d="M806.2 949.5L806.2 952.7L809.4 952.7L809.4 955.9L809.4 955.9L809.4 959.1L812.5 959.1L812.5 962.3L812.5 962.3L812.5 965.5L809.4 965.5L809.4 968.7L809.4 968.7L809.4 971.9L806.2 971.9L806.2 975.1L783.8 975.1L783.8 971.9L780.6 971.9L780.6 968.7L780.6 968.7L780.6 965.5L777.5 965.5L777.5 962.3L777.5 962.3L777.5 959.1L780.6 959.1L780.6 955.9L780.6 955.9L780.6 952.7L783.8 952.7L783.8 949.5Z" fill="#000" stroke="none"/></g>
<path stroke="#000" stroke-width="3.3" fill="none" d="M775.8 982.9H820.3"/>
<g stroke="#000" stroke-width="3.3"><path d="M795.5 969.8V998.8M774.9 969.8H818.5M774.9 998.8H818.5" fill="none"/>
<path d="M806.7 970.1L806.7 973.3L809.9 973.3L809.9 976.5L809.9 976.5L809.9 979.7L813.0 979.7L813.0 982.9L813.0 982.9L813.0 986.1L809.9 986.1L809.9 989.3L809.9 989.3L809.9 992.5L806.7 992.5L806.7 995.7L784.3 995.7L784.3 992.5L781.1 992.5L781.1 989.3L781.1 989.3L781.1 986.1L778.0 986.1L778.0 982.9L778.0 982.9L778.0 979.7L781.1 979.7L781.1 976.5L781.1 976.5L781.1 973.3L784.3 973.3L784.3 970.1Z" fill="#000" stroke="none"/><path d="M806.7 973.3L806.7 976.5L806.7 976.5L806.7 979.7L809.9 979.7L809.9 982.9L809.9 982.9L809.9 986.1L806.7 986.1L806.7 989.3L806.7 989.3L806.7 992.5L784.3 992.5L784.3 989.3L784.3 989.3L784.3 986.1L781.1 986.1L781.1 982.9L781.1 982.9L781.1 979.7L784.3 979.7L784.3 976.5L784.3 976.5L784.3 973.3Z" fill="#fff" stroke="none"/></g>
<g stroke="#000" stroke-width="3.3"><path d="M878.3 742.3V771.2M857.7 742.3H901.3M857.7 771.2H901.3" fill="none"/>
<path d="M889.5 743.0L889.5 746.2L892.7 746.2L892.7 749.4L892.7 749.4L892.7 752.6L895.8 752.6L895.8 755.8L895.8 755.8L895.8 759.0L892.7 759.0L892.7 762.2L892.7 762.2L892.7 765.4L889.5 765.4L889.5 768.6L867.1 768.6L867.1 765.4L863.9 765.4L863.9 762.2L863.9 762.2L863.9 759.0L860.8 759.0L860.8 755.8L860.8 755.8L860.8 752.6L863.9 752.6L863.9 749.4L863.9 749.4L863.9 746.2L867.1 746.2L867.1 743.0Z" fill="#000" stroke="none"/></g>
<g stroke="#000" stroke-width="3.3"><path d="M878.9 790.7V822.8M858.3 790.7H901.9M858.3 822.8H901.9" fill="none"/>
<path d="M890.1 790.3L890.1 793.5L893.3 793.5L893.3 796.7L893.3 796.7L893.3 799.9L896.4 799.9L896.4 803.1L896.4 803.1L896.4 806.3L893.3 806.3L893.3 809.5L893.3 809.5L893.3 812.7L890.1 812.7L890.1 815.9L867.7 815.9L867.7 812.7L864.5 812.7L864.5 809.5L864.5 809.5L864.5 806.3L861.4 806.3L861.4 803.1L861.4 803.1L861.4 799.9L864.5 799.9L864.5 796.7L864.5 796.7L864.5 793.5L867.7 793.5L867.7 790.3Z" fill="#000" stroke="none"/><path d="M890.1 793.5L890.1 796.7L890.1 796.7L890.1 799.9L893.3 799.9L893.3 803.1L893.3 803.1L893.3 806.3L890.1 806.3L890.1 809.5L890.1 809.5L890.1 812.7L867.7 812.7L867.7 809.5L867.7 809.5L867.7 806.3L864.5 806.3L864.5 803.1L864.5 803.1L864.5 799.9L867.7 799.9L867.7 796.7L867.7 796.7L867.7 793.5Z" fill="#fff" stroke="none"/></g>
<g stroke="#000" stroke-width="3.3"><path d="M886.4 816.3V851.7M865.8 816.3H909.4M865.8 851.7H909.4" fill="none"/>
<path d="M897.6 820.0L897.6 823.2L900.8 823.2L900.8 826.4L900.8 826.4L900.8 829.6L903.9 829.6L903.9 832.8L903.9 832.8L903.9 836.0L900.8 836.0L900.8 839.2L900.8 839.2L900.8 842.4L897.6 842.4L897.6 845.6L875.2 845.6L875.2 842.4L872.0 842.4L872.0 839.2L872.0 839.2L872.0 836.0L868.9 836.0L868.9 832.8L868.9 832.8L868.9 829.6L872.0 829.6L872.0 826.4L872.0 826.4L872.0 823.2L875.2 823.2L875.2 820.0Z" fill="#000" stroke="none"/><path d="M897.6 823.2L897.6 826.4L897.6 826.4L897.6 829.6L900.8 829.6L900.8 832.8L900.8 832.8L900.8 836.0L897.6 836.0L897.6 839.2L897.6 839.2L897.6 842.4L875.2 842.4L875.2 839.2L875.2 839.2L875.2 836.0L872.0 836.0L872.0 832.8L872.0 832.8L872.0 829.6L875.2 829.6L875.2 826.4L875.2 826.4L875.2 823.2Z" fill="#fff" stroke="none"/></g>
<g stroke="#000" stroke-width="3.3"><path d="M887.3 896.2V931.4M866.7 896.2H910.3M866.7 931.4H910.3" fill="none"/>
<path d="M898.5 898.4L898.5 901.6L901.7 901.6L901.7 904.8L901.7 904.8L901.7 908.0L904.8 908.0L904.8 911.2L904.8 911.2L904.8 914.4L901.7 914.4L901.7 917.6L901.7 917.6L901.7 920.8L898.5 920.8L898.5 924.0L876.1 924.0L876.1 920.8L872.9 920.8L872.9 917.6L872.9 917.6L872.9 914.4L869.8 914.4L869.8 911.2L869.8 911.2L869.8 908.0L872.9 908.0L872.9 904.8L872.9 904.8L872.9 901.6L876.1 901.6L876.1 898.4Z" fill="#000" stroke="none"/></g>
<g stroke="#000" stroke-width="3.3"><path d="M1043.0 685.0V723.5M1022.4 685.0H1066.0M1022.4 723.5H1066.0" fill="none"/>
<path d="M1054.2 689.9L1054.2 693.1L1057.4 693.1L1057.4 696.3L1057.4 696.3L1057.4 699.5L1060.5 699.5L1060.5 702.7L1060.5 702.7L1060.5 705.9L1057.4 705.9L1057.4 709.1L1057.4 709.1L1057.4 712.3L1054.2 712.3L1054.2 715.5L1031.8 715.5L1031.8 712.3L1028.6 712.3L1028.6 709.1L1028.6 709.1L1028.6 705.9L1025.5 705.9L1025.5 702.7L1025.5 702.7L1025.5 699.5L1028.6 699.5L1028.6 696.3L1028.6 696.3L1028.6 693.1L1031.8 693.1L1031.8 689.9Z" fill="#000" stroke="none"/></g>
<g stroke="#000" stroke-width="3.3"><path d="M1043.1 986.1V1024.4M1022.5 986.1H1066.1M1022.5 1024.4H1066.1" fill="none"/>
<path d="M1054.3 990.8L1054.3 994.0L1057.5 994.0L1057.5 997.2L1057.5 997.2L1057.5 1000.4L1060.6 1000.4L1060.6 1003.6L1060.6 1003.6L1060.6 1006.8L1057.5 1006.8L1057.5 1010.0L1057.5 1010.0L1057.5 1013.2L1054.3 1013.2L1054.3 1016.4L1031.9 1016.4L1031.9 1013.2L1028.7 1013.2L1028.7 1010.0L1028.7 1010.0L1028.7 1006.8L1025.6 1006.8L1025.6 1003.6L1025.6 1003.6L1025.6 1000.4L1028.7 1000.4L1028.7 997.2L1028.7 997.2L1028.7 994.0L1031.9 994.0L1031.9 990.8Z" fill="#000" stroke="none"/><path d="M1054.3 994.0L1054.3 997.2L1054.3 997.2L1054.3 1000.4L1057.5 1000.4L1057.5 1003.6L1057.5 1003.6L1057.5 1006.8L1054.3 1006.8L1054.3 1010.0L1054.3 1010.0L1054.3 1013.2L1031.9 1013.2L1031.9 1010.0L1031.9 1010.0L1031.9 1006.8L1028.7 1006.8L1028.7 1003.6L1028.7 1003.6L1028.7 1000.4L1031.9 1000.4L1031.9 997.2L1031.9 997.2L1031.9 994.0Z" fill="#fff" stroke="none"/></g>
<g stroke="#000" stroke-width="3.3"><path d="M1108.9 745.4V774.7M1088.3 745.4H1131.9M1088.3 774.7H1131.9" fill="none"/>
<path d="M1120.1 745.4L1120.1 748.6L1123.3 748.6L1123.3 751.8L1123.3 751.8L1123.3 755.0L1126.4 755.0L1126.4 758.2L1126.4 758.2L1126.4 761.4L1123.3 761.4L1123.3 764.6L1123.3 764.6L1123.3 767.8L1120.1 767.8L1120.1 771.0L1097.7 771.0L1097.7 767.8L1094.5 767.8L1094.5 764.6L1094.5 764.6L1094.5 761.4L1091.4 761.4L1091.4 758.2L1091.4 758.2L1091.4 755.0L1094.5 755.0L1094.5 751.8L1094.5 751.8L1094.5 748.6L1097.7 748.6L1097.7 745.4Z" fill="#000" stroke="none"/></g>
<g stroke="#000" stroke-width="3.3"><path d="M1110.2 845.3V877.1M1089.6 845.3H1133.2M1089.6 877.1H1133.2" fill="none"/>
<path d="M1121.4 847.7L1121.4 850.9L1124.6 850.9L1124.6 854.1L1124.6 854.1L1124.6 857.3L1127.7 857.3L1127.7 860.5L1127.7 860.5L1127.7 863.7L1124.6 863.7L1124.6 866.9L1124.6 866.9L1124.6 870.1L1121.4 870.1L1121.4 873.3L1099.0 873.3L1099.0 870.1L1095.8 870.1L1095.8 866.9L1095.8 866.9L1095.8 863.7L1092.7 863.7L1092.7 860.5L1092.7 860.5L1092.7 857.3L1095.8 857.3L1095.8 854.1L1095.8 854.1L1095.8 850.9L1099.0 850.9L1099.0 847.7Z" fill="#000" stroke="none"/><path d="M1121.4 850.9L1121.4 854.1L1121.4 854.1L1121.4 857.3L1124.6 857.3L1124.6 860.5L1124.6 860.5L1124.6 863.7L1121.4 863.7L1121.4 866.9L1121.4 866.9L1121.4 870.1L1099.0 870.1L1099.0 866.9L1099.0 866.9L1099.0 863.7L1095.8 863.7L1095.8 860.5L1095.8 860.5L1095.8 857.3L1099.0 857.3L1099.0 854.1L1099.0 854.1L1099.0 850.9Z" fill="#fff" stroke="none"/></g>
<g stroke="#000" stroke-width="3.3"><path d="M1123.0 681.5V710.6M1102.4 681.5H1146.0M1102.4 710.6H1146.0" fill="none"/>
<path d="M1134.2 681.8L1134.2 685.0L1137.4 685.0L1137.4 688.2L1137.4 688.2L1137.4 691.4L1140.5 691.4L1140.5 694.6L1140.5 694.6L1140.5 697.8L1137.4 697.8L1137.4 701.0L1137.4 701.0L1137.4 704.2L1134.2 704.2L1134.2 707.4L1111.8 707.4L1111.8 704.2L1108.6 704.2L1108.6 701.0L1108.6 701.0L1108.6 697.8L1105.5 697.8L1105.5 694.6L1105.5 694.6L1105.5 691.4L1108.6 691.4L1108.6 688.2L1108.6 688.2L1108.6 685.0L1111.8 685.0L1111.8 681.8Z" fill="#000" stroke="none"/></g>
<g stroke="#000" stroke-width="3.3"><path d="M1124.0 755.5V787.1M1103.4 755.5H1147.0M1103.4 787.1H1147.0" fill="none"/>
<path d="M1135.2 756.4L1135.2 759.6L1138.4 759.6L1138.4 762.8L1138.4 762.8L1138.4 766.0L1141.5 766.0L1141.5 769.2L1141.5 769.2L1141.5 772.4L1138.4 772.4L1138.4 775.6L1138.4 775.6L1138.4 778.8L1135.2 778.8L1135.2 782.0L1112.8 782.0L1112.8 778.8L1109.6 778.8L1109.6 775.6L1109.6 775.6L1109.6 772.4L1106.5 772.4L1106.5 769.2L1106.5 769.2L1106.5 766.0L1109.6 766.0L1109.6 762.8L1109.6 762.8L1109.6 759.6L1112.8 759.6L1112.8 756.4Z" fill="#000" stroke="none"/><path d="M1135.2 759.6L1135.2 762.8L1135.2 762.8L1135.2 766.0L1138.4 766.0L1138.4 769.2L1138.4 769.2L1138.4 772.4L1135.2 772.4L1135.2 775.6L1135.2 775.6L1135.2 778.8L1112.8 778.8L1112.8 775.6L1112.8 775.6L1112.8 772.4L1109.6 772.4L1109.6 769.2L1109.6 769.2L1109.6 766.0L1112.8 766.0L1112.8 762.8L1112.8 762.8L1112.8 759.6Z" fill="#fff" stroke="none"/></g>
<g stroke="#000" stroke-width="3.3"><path d="M1149.5 861.1V899.4M1128.9 861.1H1172.5M1128.9 899.4H1172.5" fill="none"/>
<path d="M1160.7 867.6L1160.7 870.8L1163.9 870.8L1163.9 874.0L1163.9 874.0L1163.9 877.2L1167.0 877.2L1167.0 880.4L1167.0 880.4L1167.0 883.6L1163.9 883.6L1163.9 886.8L1163.9 886.8L1163.9 890.0L1160.7 890.0L1160.7 893.2L1138.3 893.2L1138.3 890.0L1135.1 890.0L1135.1 886.8L1135.1 886.8L1135.1 883.6L1132.0 883.6L1132.0 880.4L1132.0 880.4L1132.0 877.2L1135.1 877.2L1135.1 874.0L1135.1 874.0L1135.1 870.8L1138.3 870.8L1138.3 867.6Z" fill="#000" stroke="none"/><path d="M1160.7 870.8L1160.7 874.0L1160.7 874.0L1160.7 877.2L1163.9 877.2L1163.9 880.4L1163.9 880.4L1163.9 883.6L1160.7 883.6L1160.7 886.8L1160.7 886.8L1160.7 890.0L1138.3 890.0L1138.3 886.8L1138.3 886.8L1138.3 883.6L1135.1 883.6L1135.1 880.4L1135.1 880.4L1135.1 877.2L1138.3 877.2L1138.3 874.0L1138.3 874.0L1138.3 870.8Z" fill="#fff" stroke="none"/></g>
<g stroke="#000" stroke-width="3.3"><path d="M1150.6 774.7V809.8M1130.0 774.7H1173.6M1130.0 809.8H1173.6" fill="none"/>
<path d="M1161.8 778.0L1161.8 781.2L1165.0 781.2L1165.0 784.4L1165.0 784.4L1165.0 787.6L1168.1 787.6L1168.1 790.8L1168.1 790.8L1168.1 794.0L1165.0 794.0L1165.0 797.2L1165.0 797.2L1165.0 800.4L1161.8 800.4L1161.8 803.6L1139.4 803.6L1139.4 800.4L1136.2 800.4L1136.2 797.2L1136.2 797.2L1136.2 794.0L1133.1 794.0L1133.1 790.8L1133.1 790.8L1133.1 787.6L1136.2 787.6L1136.2 784.4L1136.2 784.4L1136.2 781.2L1139.4 781.2L1139.4 778.0Z" fill="#000" stroke="none"/></g>
<g stroke="#000" stroke-width="3.3"><path d="M1174.1 794.0V835.5M1153.5 794.0H1197.1M1153.5 835.5H1197.1" fill="none"/>
<path d="M1185.3 800.9L1185.3 804.1L1188.5 804.1L1188.5 807.3L1188.5 807.3L1188.5 810.5L1191.6 810.5L1191.6 813.7L1191.6 813.7L1191.6 816.9L1188.5 816.9L1188.5 820.1L1188.5 820.1L1188.5 823.3L1185.3 823.3L1185.3 826.5L1162.9 826.5L1162.9 823.3L1159.7 823.3L1159.7 820.1L1159.7 820.1L1159.7 816.9L1156.6 816.9L1156.6 813.7L1156.6 813.7L1156.6 810.5L1159.7 810.5L1159.7 807.3L1159.7 807.3L1159.7 804.1L1162.9 804.1L1162.9 800.9Z" fill="#000" stroke="none"/></g>
<g stroke="#000" stroke-width="3.3"><path d="M1174.4 864.2V902.6M1153.8 864.2H1197.4M1153.8 902.6H1197.4" fill="none"/>
<path d="M1185.6 869.2L1185.6 872.4L1188.8 872.4L1188.8 875.6L1188.8 875.6L1188.8 878.8L1191.9 878.8L1191.9 882.0L1191.9 882.0L1191.9 885.2L1188.8 885.2L1188.8 888.4L1188.8 888.4L1188.8 891.6L1185.6 891.6L1185.6 894.8L1163.2 894.8L1163.2 891.6L1160.0 891.6L1160.0 888.4L1160.0 888.4L1160.0 885.2L1156.9 885.2L1156.9 882.0L1156.9 882.0L1156.9 878.8L1160.0 878.8L1160.0 875.6L1160.0 875.6L1160.0 872.4L1163.2 872.4L1163.2 869.2Z" fill="#000" stroke="none"/><path d="M1185.6 872.4L1185.6 875.6L1185.6 875.6L1185.6 878.8L1188.8 878.8L1188.8 882.0L1188.8 882.0L1188.8 885.2L1185.6 885.2L1185.6 888.4L1185.6 888.4L1185.6 891.6L1163.2 891.6L1163.2 888.4L1163.2 888.4L1163.2 885.2L1160.0 885.2L1160.0 882.0L1160.0 882.0L1160.0 878.8L1163.2 878.8L1163.2 875.6L1163.2 875.6L1163.2 872.4Z" fill="#fff" stroke="none"/></g>
<g stroke="#000" stroke-width="3.3"><path d="M1193.7 835.5V864.2M1173.1 835.5H1216.7M1173.1 864.2H1216.7" fill="none"/>
<path d="M1204.9 836.2L1204.9 839.4L1208.1 839.4L1208.1 842.6L1208.1 842.6L1208.1 845.8L1211.2 845.8L1211.2 849.0L1211.2 849.0L1211.2 852.2L1208.1 852.2L1208.1 855.4L1208.1 855.4L1208.1 858.6L1204.9 858.6L1204.9 861.8L1182.5 861.8L1182.5 858.6L1179.3 858.6L1179.3 855.4L1179.3 855.4L1179.3 852.2L1176.2 852.2L1176.2 849.0L1176.2 849.0L1176.2 845.8L1179.3 845.8L1179.3 842.6L1179.3 842.6L1179.3 839.4L1182.5 839.4L1182.5 836.2Z" fill="#000" stroke="none"/><path d="M1204.9 839.4L1204.9 842.6L1204.9 842.6L1204.9 845.8L1208.1 845.8L1208.1 849.0L1208.1 849.0L1208.1 852.2L1204.9 852.2L1204.9 855.4L1204.9 855.4L1204.9 858.6L1182.5 858.6L1182.5 855.4L1182.5 855.4L1182.5 852.2L1179.3 852.2L1179.3 849.0L1179.3 849.0L1179.3 845.8L1182.5 845.8L1182.5 842.6L1182.5 842.6L1182.5 839.4Z" fill="#fff" stroke="none"/></g>
<g stroke="#000" stroke-width="3.3"><path d="M1194.6 598.5V630.4M1174.0 598.5H1217.6M1174.0 630.4H1217.6" fill="none"/>
<path d="M1205.8 601.6L1205.8 604.8L1209.0 604.8L1209.0 608.0L1209.0 608.0L1209.0 611.2L1212.1 611.2L1212.1 614.4L1212.1 614.4L1212.1 617.6L1209.0 617.6L1209.0 620.8L1209.0 620.8L1209.0 624.0L1205.8 624.0L1205.8 627.2L1183.4 627.2L1183.4 624.0L1180.2 624.0L1180.2 620.8L1180.2 620.8L1180.2 617.6L1177.1 617.6L1177.1 614.4L1177.1 614.4L1177.1 611.2L1180.2 611.2L1180.2 608.0L1180.2 608.0L1180.2 604.8L1183.4 604.8L1183.4 601.6Z" fill="#000" stroke="none"/></g>
<g stroke="#000" stroke-width="3.3"><path d="M1238.0 797.3V829.1M1217.4 797.3H1261.0M1217.4 829.1H1261.0" fill="none"/>
<path d="M1249.2 799.7L1249.2 802.9L1252.4 802.9L1252.4 806.1L1252.4 806.1L1252.4 809.3L1255.5 809.3L1255.5 812.5L1255.5 812.5L1255.5 815.7L1252.4 815.7L1252.4 818.9L1252.4 818.9L1252.4 822.1L1249.2 822.1L1249.2 825.3L1226.8 825.3L1226.8 822.1L1223.6 822.1L1223.6 818.9L1223.6 818.9L1223.6 815.7L1220.5 815.7L1220.5 812.5L1220.5 812.5L1220.5 809.3L1223.6 809.3L1223.6 806.1L1223.6 806.1L1223.6 802.9L1226.8 802.9L1226.8 799.7Z" fill="#000" stroke="none"/><path d="M1249.2 802.9L1249.2 806.1L1249.2 806.1L1249.2 809.3L1252.4 809.3L1252.4 812.5L1252.4 812.5L1252.4 815.7L1249.2 815.7L1249.2 818.9L1249.2 818.9L1249.2 822.1L1226.8 822.1L1226.8 818.9L1226.8 818.9L1226.8 815.7L1223.6 815.7L1223.6 812.5L1223.6 812.5L1223.6 809.3L1226.8 809.3L1226.8 806.1L1226.8 806.1L1226.8 802.9Z" fill="#fff" stroke="none"/></g>
<g stroke="#000" stroke-width="3.3"><path d="M1238.2 880.3V912.5M1217.6 880.3H1261.2M1217.6 912.5H1261.2" fill="none"/>
<path d="M1249.4 883.1L1249.4 886.3L1252.6 886.3L1252.6 889.5L1252.6 889.5L1252.6 892.7L1255.7 892.7L1255.7 895.9L1255.7 895.9L1255.7 899.1L1252.6 899.1L1252.6 902.3L1252.6 902.3L1252.6 905.5L1249.4 905.5L1249.4 908.7L1227.0 908.7L1227.0 905.5L1223.8 905.5L1223.8 902.3L1223.8 902.3L1223.8 899.1L1220.7 899.1L1220.7 895.9L1220.7 895.9L1220.7 892.7L1223.8 892.7L1223.8 889.5L1223.8 889.5L1223.8 886.3L1227.0 886.3L1227.0 883.1Z" fill="#000" stroke="none"/></g>
<g stroke="#000" stroke-width="3.3"><path d="M1483.5 457.5V486.4M1462.9 457.5H1506.5M1462.9 486.4H1506.5" fill="none"/>
<path d="M1494.7 458.8L1494.7 462.0L1497.9 462.0L1497.9 465.2L1497.9 465.2L1497.9 468.4L1501.0 468.4L1501.0 471.6L1501.0 471.6L1501.0 474.8L1497.9 474.8L1497.9 478.0L1497.9 478.0L1497.9 481.2L1494.7 481.2L1494.7 484.4L1472.3 484.4L1472.3 481.2L1469.1 481.2L1469.1 478.0L1469.1 478.0L1469.1 474.8L1466.0 474.8L1466.0 471.6L1466.0 471.6L1466.0 468.4L1469.1 468.4L1469.1 465.2L1469.1 465.2L1469.1 462.0L1472.3 462.0L1472.3 458.8Z" fill="#000" stroke="none"/></g>
<g stroke="#000" stroke-width="3.3"><path d="M1483.5 566.6V598.8M1462.9 566.6H1506.5M1462.9 598.8H1506.5" fill="none"/>
<path d="M1494.7 568.7L1494.7 571.9L1497.9 571.9L1497.9 575.1L1497.9 575.1L1497.9 578.3L1501.0 578.3L1501.0 581.5L1501.0 581.5L1501.0 584.7L1497.9 584.7L1497.9 587.9L1497.9 587.9L1497.9 591.1L1494.7 591.1L1494.7 594.3L1472.3 594.3L1472.3 591.1L1469.1 591.1L1469.1 587.9L1469.1 587.9L1469.1 584.7L1466.0 584.7L1466.0 581.5L1466.0 581.5L1466.0 578.3L1469.1 578.3L1469.1 575.1L1469.1 575.1L1469.1 571.9L1472.3 571.9L1472.3 568.7Z" fill="#000" stroke="none"/><path d="M1494.7 571.9L1494.7 575.1L1494.7 575.1L1494.7 578.3L1497.9 578.3L1497.9 581.5L1497.9 581.5L1497.9 584.7L1494.7 584.7L1494.7 587.9L1494.7 587.9L1494.7 591.1L1472.3 591.1L1472.3 587.9L1472.3 587.9L1472.3 584.7L1469.1 584.7L1469.1 581.5L1469.1 581.5L1469.1 578.3L1472.3 578.3L1472.3 575.1L1472.3 575.1L1472.3 571.9Z" fill="#fff" stroke="none"/></g>
<g stroke="#000" stroke-width="3.3"><path d="M1486.7 604.7V637.1M1466.1 604.7H1509.7M1466.1 637.1H1509.7" fill="none"/>
<path d="M1497.9 607.3L1497.9 610.5L1501.1 610.5L1501.1 613.7L1501.1 613.7L1501.1 616.9L1504.2 616.9L1504.2 620.1L1504.2 620.1L1504.2 623.3L1501.1 623.3L1501.1 626.5L1501.1 626.5L1501.1 629.7L1497.9 629.7L1497.9 632.9L1475.5 632.9L1475.5 629.7L1472.3 629.7L1472.3 626.5L1472.3 626.5L1472.3 623.3L1469.2 623.3L1469.2 620.1L1469.2 620.1L1469.2 616.9L1472.3 616.9L1472.3 613.7L1472.3 613.7L1472.3 610.5L1475.5 610.5L1475.5 607.3Z" fill="#000" stroke="none"/></g>
<g stroke="#000" stroke-width="3.3"><path d="M1564.0 627.4V672.2M1543.4 627.4H1587.0M1543.4 672.2H1587.0" fill="none"/>
<path d="M1575.2 637.0L1575.2 640.2L1578.4 640.2L1578.4 643.4L1578.4 643.4L1578.4 646.6L1581.5 646.6L1581.5 649.8L1581.5 649.8L1581.5 653.0L1578.4 653.0L1578.4 656.2L1578.4 656.2L1578.4 659.4L1575.2 659.4L1575.2 662.6L1552.8 662.6L1552.8 659.4L1549.6 659.4L1549.6 656.2L1549.6 656.2L1549.6 653.0L1546.5 653.0L1546.5 649.8L1546.5 649.8L1546.5 646.6L1549.6 646.6L1549.6 643.4L1549.6 643.4L1549.6 640.2L1552.8 640.2L1552.8 637.0Z" fill="#000" stroke="none"/></g>
<g stroke="#000" stroke-width="3.3"><path d="M1564.0 739.5V784.3M1543.4 739.5H1587.0M1543.4 784.3H1587.0" fill="none"/>
<path d="M1575.2 747.7L1575.2 750.9L1578.4 750.9L1578.4 754.1L1578.4 754.1L1578.4 757.3L1581.5 757.3L1581.5 760.5L1581.5 760.5L1581.5 763.7L1578.4 763.7L1578.4 766.9L1578.4 766.9L1578.4 770.1L1575.2 770.1L1575.2 773.3L1552.8 773.3L1552.8 770.1L1549.6 770.1L1549.6 766.9L1549.6 766.9L1549.6 763.7L1546.5 763.7L1546.5 760.5L1546.5 760.5L1546.5 757.3L1549.6 757.3L1549.6 754.1L1549.6 754.1L1549.6 750.9L1552.8 750.9L1552.8 747.7Z" fill="#000" stroke="none"/><path d="M1575.2 750.9L1575.2 754.1L1575.2 754.1L1575.2 757.3L1578.4 757.3L1578.4 760.5L1578.4 760.5L1578.4 763.7L1575.2 763.7L1575.2 766.9L1575.2 766.9L1575.2 770.1L1552.8 770.1L1552.8 766.9L1552.8 766.9L1552.8 763.7L1549.6 763.7L1549.6 760.5L1549.6 760.5L1549.6 757.3L1552.8 757.3L1552.8 754.1L1552.8 754.1L1552.8 750.9Z" fill="#fff" stroke="none"/></g>
<g stroke="#000" stroke-width="3.3"><path d="M1912.5 515.3V560.1M1891.9 515.3H1935.5M1891.9 560.1H1935.5" fill="none"/>
<path d="M1923.7 522.2L1923.7 525.4L1926.9 525.4L1926.9 528.6L1926.9 528.6L1926.9 531.8L1930.0 531.8L1930.0 535.0L1930.0 535.0L1930.0 538.2L1926.9 538.2L1926.9 541.4L1926.9 541.4L1926.9 544.6L1923.7 544.6L1923.7 547.8L1901.3 547.8L1901.3 544.6L1898.1 544.6L1898.1 541.4L1898.1 541.4L1898.1 538.2L1895.0 538.2L1895.0 535.0L1895.0 535.0L1895.0 531.8L1898.1 531.8L1898.1 528.6L1898.1 528.6L1898.1 525.4L1901.3 525.4L1901.3 522.2Z" fill="#000" stroke="none"/><path d="M1923.7 525.4L1923.7 528.6L1923.7 528.6L1923.7 531.8L1926.9 531.8L1926.9 535.0L1926.9 535.0L1926.9 538.2L1923.7 538.2L1923.7 541.4L1923.7 541.4L1923.7 544.6L1901.3 544.6L1901.3 541.4L1901.3 541.4L1901.3 538.2L1898.1 538.2L1898.1 535.0L1898.1 535.0L1898.1 531.8L1901.3 531.8L1901.3 528.6L1901.3 528.6L1901.3 525.4Z" fill="#fff" stroke="none"/></g>
<g stroke="#000" stroke-width="3.3"><path d="M1913.4 178.8V227.1M1892.8 178.8H1936.4M1892.8 227.1H1936.4" fill="none"/>
<path d="M1924.6 188.4L1924.6 191.6L1927.8 191.6L1927.8 194.8L1927.8 194.8L1927.8 198.0L1930.9 198.0L1930.9 201.2L1930.9 201.2L1930.9 204.4L1927.8 204.4L1927.8 207.6L1927.8 207.6L1927.8 210.8L1924.6 210.8L1924.6 214.0L1902.2 214.0L1902.2 210.8L1899.0 210.8L1899.0 207.6L1899.0 207.6L1899.0 204.4L1895.9 204.4L1895.9 201.2L1895.9 201.2L1895.9 198.0L1899.0 198.0L1899.0 194.8L1899.0 194.8L1899.0 191.6L1902.2 191.6L1902.2 188.4Z" fill="#000" stroke="none"/></g>
<rect x="377.2" y="182.5" width="493.3" height="178.8" fill="none" stroke="#000" stroke-width="3.2"/>
<path d="M484.4 229.0L484.4 232.2L490.8 232.2L490.8 235.4L494.0 235.4L494.0 238.6L494.0 238.6L494.0 241.8L494.0 241.8L494.0 245.0L494.0 245.0L494.0 248.2L494.0 248.2L494.0 251.4L494.0 251.4L494.0 254.6L487.6 254.6L487.6 257.8L471.6 257.8L471.6 254.6L465.2 254.6L465.2 251.4L465.2 251.4L465.2 248.2L465.2 248.2L465.2 245.0L465.2 245.0L465.2 241.8L465.2 241.8L465.2 238.6L465.2 238.6L465.2 235.4L468.4 235.4L468.4 232.2L474.8 232.2L474.8 229.0Z" fill="#000"/><path d="M462 241.6h4v3.2h-4zM493 241.6h4.3v6.2h-4.3z" fill="#000"/>
<path d="M490.8 286.4L490.8 289.6L494.0 289.6L494.0 292.8L494.0 292.8L494.0 296.0L497.1 296.0L497.1 299.2L497.1 299.2L497.1 302.4L494.0 302.4L494.0 305.6L494.0 305.6L494.0 308.8L490.8 308.8L490.8 312.0L468.4 312.0L468.4 308.8L465.2 308.8L465.2 305.6L465.2 305.6L465.2 302.4L462.1 302.4L462.1 299.2L462.1 299.2L462.1 296.0L465.2 296.0L465.2 292.8L465.2 292.8L465.2 289.6L468.4 289.6L468.4 286.4Z" fill="#000" stroke="none"/><path d="M490.8 289.6L490.8 292.8L490.8 292.8L490.8 296.0L494.0 296.0L494.0 299.2L494.0 299.2L494.0 302.4L490.8 302.4L490.8 305.6L490.8 305.6L490.8 308.8L468.4 308.8L468.4 305.6L468.4 305.6L468.4 302.4L465.2 302.4L465.2 299.2L465.2 299.2L465.2 296.0L468.4 296.0L468.4 292.8L468.4 292.8L468.4 289.6Z" fill="#fff" stroke="none"/><path d="M478 283.3h3.2v3.3h-3.2zM478 311.9h3.2v3.2h-3.2z" fill="#000"/><path d="M478 286.5h3.2v3.3h-3.2zM478 308.7h3.2v3.3h-3.2z" fill="#fff"/>
</svg></body></html>
